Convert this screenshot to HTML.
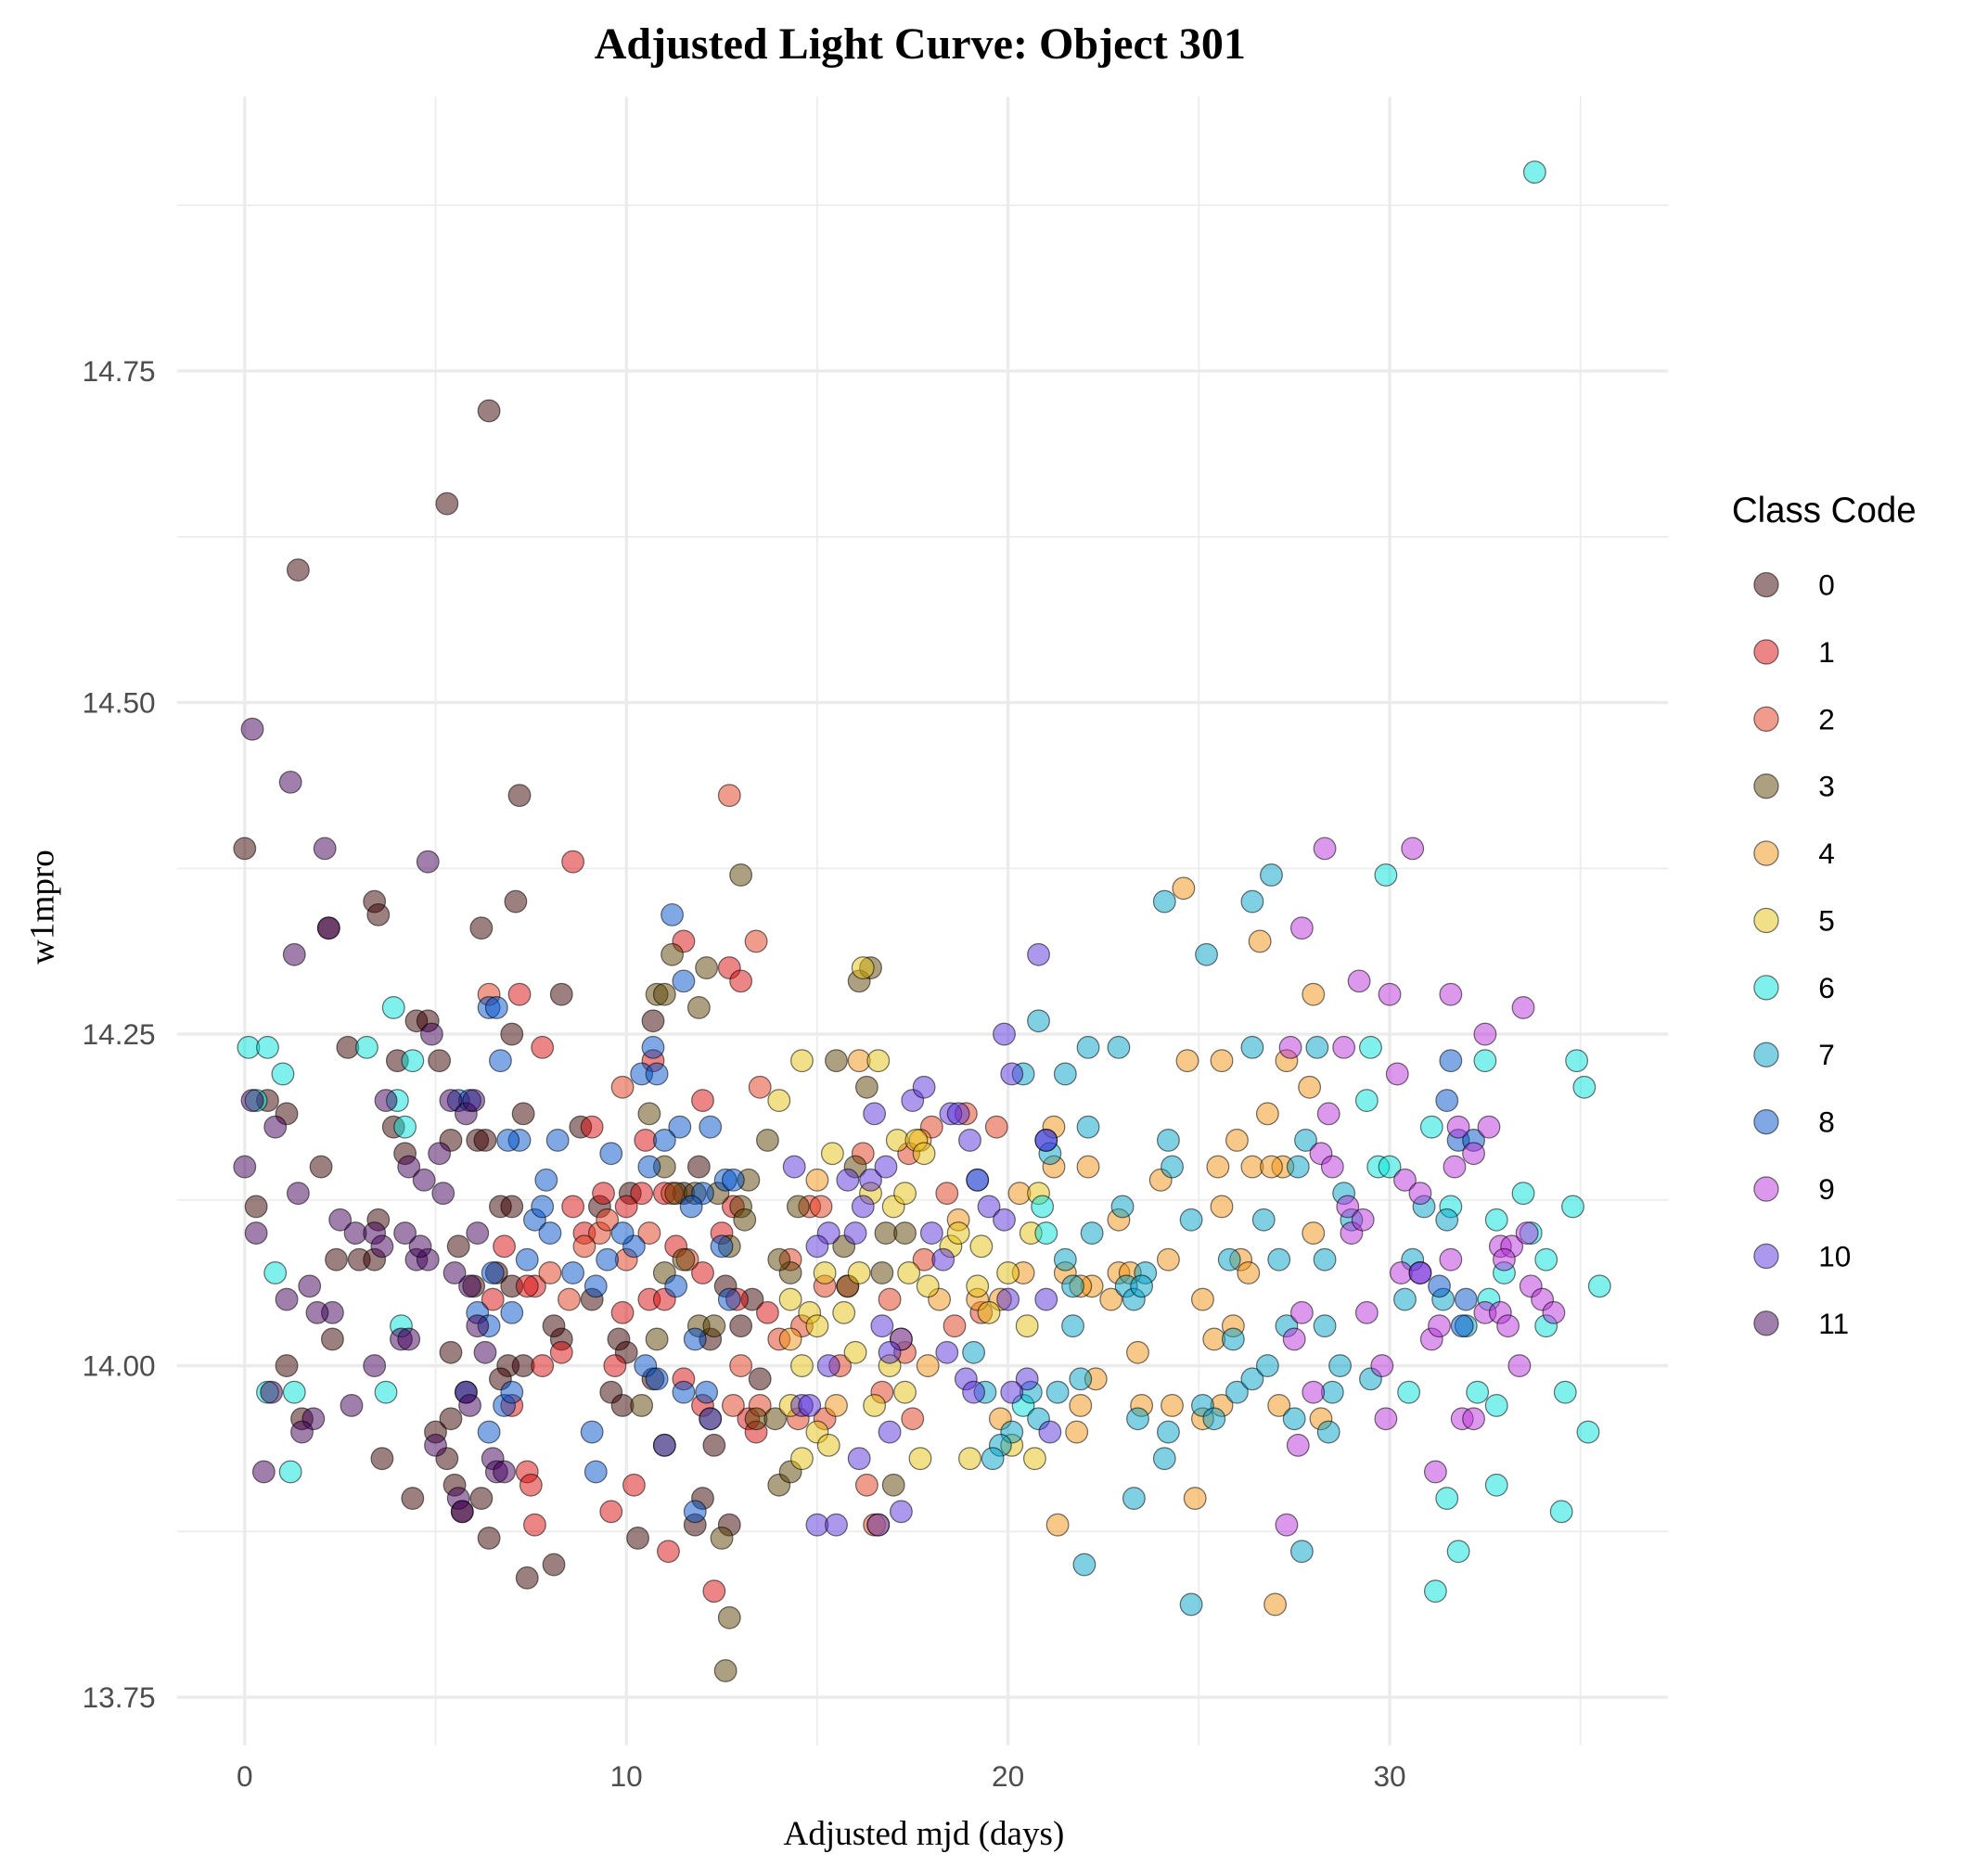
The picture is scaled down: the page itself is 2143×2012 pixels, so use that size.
<!DOCTYPE html>
<html><head><meta charset="utf-8"><style>
html,body{margin:0;padding:0;background:#fff;}
svg{display:block;}
</style></head><body>
<svg id="chart" width="2143" height="2012" viewBox="0 0 1560 1464.7" xmlns="http://www.w3.org/2000/svg">
<rect width="1560" height="1464.7" fill="#fff"/>
<g id="grid"></g>
<g id="points"></g>
<g id="axes"></g>
<text x="722" y="46" text-anchor="middle" font-family="Liberation Serif, serif" font-weight="bold" font-size="35">Adjusted Light Curve: Object 301</text>
<text x="725" y="1448" text-anchor="middle" font-family="Liberation Serif, serif" font-size="27">Adjusted mjd (days)</text>
<text transform="translate(42,712) rotate(-90)" text-anchor="middle" font-family="Liberation Serif, serif" font-size="27">w1mpro</text>
<g id="legend"></g>
</svg>
<script>
const xTicks=[0,10,20,30];
const yTicks=[13.75,14.00,14.25,14.50,14.75];
const yTickLabels=["13.75","14.00","14.25","14.50","14.75"];
const classes=["0","1","2","3","4","5","6","7","8","9","10","11"];
const colors=["#390000","#d90b0b","#e13919","#5b4101","#f19111","#e5c111","#01e1d9","#01a1c9","#0151c9","#b931d9","#5931d9","#410059"];
const c0=[[0,14.39],[1.4,14.60],[5.3,14.65],[6.4,14.72],[7.2,14.43],[7.1,14.35],[3.4,14.35],[3.5,14.34],[2.2,14.33],[6.2,14.33],[2.7,14.24],[7.0,14.25],[8.3,14.28],[4.5,14.26],[4.8,14.26],[5.1,14.23],[3.9,14.18],[6.1,14.17],[6.3,14.17],[7.3,14.19],[8.8,14.18],[0.6,14.20],[1.1,14.19],[2.0,14.15],[4.0,14.23],[0.3,14.12],[2.4,14.08],[3.0,14.08],[3.5,14.11],[5.4,14.17],[6.7,14.12],[7.0,14.12],[5.6,14.09],[6.6,14.07],[1.1,14.00],[2.3,14.02],[5.4,14.01],[6.0,14.06],[7.0,14.06],[6.9,14.00],[7.3,14.00],[6.7,13.99],[3.6,13.93],[4.4,13.90],[5.0,13.95],[5.3,13.93],[5.4,13.96],[5.5,13.91],[5.7,13.89],[6.2,13.90],[6.4,13.87],[7.4,13.84],[8.1,13.85],[8.3,14.02],[8.1,14.03],[9.1,14.05],[9.8,14.02],[9.6,13.98],[9.9,13.97],[10.3,13.87],[10.0,14.01],[10.7,13.99],[10.7,14.26],[11.5,14.13],[11.9,14.15],[12.0,13.90],[11.8,13.88],[12.2,14.02],[12.3,13.94],[12.6,14.06],[12.7,13.88],[13.0,14.03],[13.3,14.05],[13.5,13.99],[9.3,14.12],[10.1,14.13],[1.5,13.96],[4.2,14.16],[3.4,14.08]];
const c1=[[8.6,14.38],[7.2,14.28],[7.8,14.24],[12.7,14.30],[13.0,14.29],[11.5,14.32],[12.0,14.20],[10.7,14.23],[11.0,14.13],[10.4,14.13],[10.5,14.17],[10.0,14.12],[9.1,14.18],[8.9,14.10],[7.6,14.06],[7.4,14.06],[7.0,13.97],[7.4,13.92],[7.6,13.88],[7.5,13.91],[7.8,14.00],[8.3,14.01],[9.6,13.89],[9.7,14.00],[9.9,14.04],[10.2,13.91],[10.6,14.05],[11.0,14.05],[11.3,14.09],[11.1,13.86],[11.0,13.94],[11.5,13.99],[12.0,13.97],[12.3,13.83],[12.2,13.96],[12.0,14.07],[12.5,14.10],[12.8,14.12],[12.9,14.05],[13.2,13.96],[13.4,13.95],[13.7,14.04],[6.5,14.05],[6.8,14.09],[8.6,14.12],[9.4,14.13]];
const c2=[[12.7,14.43],[13.4,14.32],[13.5,14.21],[6.4,14.28],[9.9,14.21],[10.6,14.10],[11.2,14.13],[9.3,14.10],[8.5,14.05],[8.0,14.07],[13.0,14.00],[13.5,13.97],[14.0,14.02],[14.6,14.03],[15.2,13.96],[15.6,14.00],[15.8,14.06],[16.3,13.91],[16.5,13.88],[16.7,13.98],[16.9,14.05],[17.3,14.01],[17.5,13.96],[17.8,14.08],[18.0,14.18],[18.4,14.13],[18.6,14.03],[18.9,14.19],[19.3,14.04],[19.7,14.18],[17.4,14.16],[16.2,14.16],[14.3,14.08],[14.8,14.12],[15.1,14.12],[12.8,13.97],[11.6,14.08],[10.0,14.08],[8.9,14.09],[9.5,14.11],[14.5,13.96],[15.2,14.06]];
const c3=[[13.0,14.37],[11.2,14.31],[12.1,14.30],[11.9,14.27],[10.8,14.28],[11.0,14.28],[16.1,14.29],[16.4,14.30],[15.5,14.23],[16.3,14.21],[13.7,14.17],[10.6,14.19],[11.0,14.15],[11.3,14.13],[11.8,14.13],[12.4,14.13],[13.0,14.12],[13.2,14.14],[14.5,14.12],[14.3,14.07],[14.0,14.08],[13.1,14.11],[12.7,14.09],[11.5,14.08],[11.0,14.07],[10.8,14.02],[11.9,14.03],[12.3,14.03],[12.5,13.87],[12.7,13.81],[12.6,13.77],[13.4,13.96],[13.9,13.96],[14.0,13.91],[14.3,13.92],[15.8,14.06],[16.0,14.15],[16.8,14.10],[17.0,13.91],[16.7,14.07],[17.3,14.10],[15.7,14.09],[10.4,13.97]];
const c4=[[24.6,14.36],[26.6,14.32],[28.0,14.28],[27.9,14.21],[24.7,14.23],[25.6,14.23],[27.3,14.23],[26.8,14.19],[27.2,14.15],[21.2,14.18],[21.2,14.15],[22.1,14.15],[22.9,14.11],[24.0,14.14],[25.5,14.15],[25.6,14.12],[26.0,14.17],[26.4,14.15],[26.9,14.15],[28.0,14.10],[20.3,14.13],[20.4,14.07],[21.5,14.07],[22.2,14.06],[22.9,14.07],[23.2,14.07],[24.2,14.08],[25.1,14.05],[25.4,14.02],[25.9,14.03],[26.1,14.08],[26.3,14.07],[23.4,14.01],[22.7,14.05],[21.9,14.06],[22.3,13.99],[21.9,13.97],[21.8,13.95],[21.3,13.88],[23.5,13.97],[24.3,13.97],[24.9,13.90],[25.1,13.96],[25.6,13.97],[27.1,13.97],[27.0,13.82],[28.2,13.96],[16.1,14.23],[15.0,14.14],[17.7,14.17],[18.2,14.05],[18.7,14.11],[19.8,14.05],[16.6,13.88],[14.3,14.02],[15.5,13.97],[17.2,14.02],[17.9,14.00],[19.2,14.05],[19.8,13.96]];
const c5=[[16.2,14.30],[14.6,14.23],[14.0,14.20],[15.4,14.16],[17.1,14.17],[17.6,14.17],[17.8,14.16],[16.6,14.23],[16.4,14.13],[15.2,14.07],[14.8,14.04],[14.3,14.05],[15.0,14.03],[15.7,14.04],[16.1,14.07],[17.0,14.12],[17.3,14.13],[17.4,14.07],[17.9,14.06],[18.5,14.09],[18.7,14.10],[19.2,14.06],[19.3,14.09],[19.5,14.04],[20.0,14.07],[20.6,14.10],[20.8,14.13],[20.5,14.03],[20.1,13.94],[20.7,13.93],[19.0,13.93],[17.3,13.98],[17.7,13.93],[16.5,13.97],[14.6,13.93],[15.0,13.95],[14.6,14.00],[14.3,13.97],[15.3,13.94],[16.0,14.01],[16.9,14.00]];
const c6=[[33.8,14.90],[0.1,14.24],[0.3,14.20],[0.6,14.24],[1.0,14.22],[3.2,14.24],[3.9,14.27],[4.2,14.18],[4.4,14.23],[4.0,14.20],[0.8,14.07],[0.6,13.98],[1.3,13.98],[1.2,13.92],[3.7,13.98],[4.1,14.03],[29.9,14.37],[29.5,14.24],[29.4,14.20],[29.7,14.15],[30.0,14.15],[32.5,14.23],[33.5,14.13],[34.9,14.23],[35.1,14.21],[31.1,14.18],[31.6,14.12],[32.8,14.11],[34.8,14.12],[35.5,14.06],[34.1,14.08],[33.7,14.10],[32.6,14.05],[33.0,14.07],[34.1,14.03],[32.8,13.97],[32.3,13.98],[31.5,13.90],[31.8,13.86],[31.2,13.83],[32.8,13.91],[34.5,13.89],[34.6,13.98],[35.2,13.95],[30.5,13.98],[20.4,13.97],[20.9,14.12],[21.0,14.10]];
const c7=[[24.1,14.35],[26.9,14.37],[26.4,14.35],[25.2,14.31],[20.8,14.26],[20.4,14.22],[21.5,14.22],[22.1,14.24],[22.9,14.24],[26.4,14.24],[28.1,14.24],[24.2,14.17],[24.3,14.15],[27.8,14.17],[27.6,14.15],[22.1,14.18],[21.1,14.16],[19.2,14.14],[23.0,14.12],[22.2,14.10],[25.8,14.08],[25.9,14.02],[24.8,14.11],[26.7,14.11],[27.1,14.08],[28.3,14.08],[28.8,14.13],[29.0,14.11],[21.5,14.08],[21.7,14.06],[23.1,14.06],[23.6,14.07],[23.3,14.05],[23.5,14.06],[21.7,14.03],[21.9,13.99],[21.3,13.98],[20.6,13.98],[20.1,13.95],[19.8,13.94],[19.1,14.01],[19.4,13.98],[22.0,13.85],[23.3,13.90],[24.1,13.93],[24.2,13.95],[23.4,13.96],[25.1,13.97],[25.4,13.96],[24.8,13.82],[26.0,13.98],[26.4,13.99],[26.8,14.00],[27.5,13.96],[27.7,13.86],[28.4,13.95],[28.5,13.98],[28.7,14.00],[29.5,13.99],[30.4,14.05],[30.6,14.08],[31.4,14.05],[32.0,14.03],[30.9,14.12],[31.5,14.11],[28.3,14.03],[27.3,14.03],[20.8,13.96],[19.6,13.93]];
const c8=[[11.2,14.34],[11.5,14.29],[6.4,14.27],[6.6,14.27],[6.7,14.23],[10.4,14.22],[10.7,14.24],[10.8,14.22],[5.6,14.20],[5.9,14.20],[11.4,14.18],[12.2,14.18],[10.6,14.15],[11.0,14.17],[9.6,14.16],[8.2,14.17],[7.9,14.14],[7.2,14.17],[6.9,14.17],[12.6,14.14],[12.8,14.14],[12.0,14.13],[11.7,14.12],[10.2,14.09],[9.9,14.10],[7.6,14.11],[7.8,14.12],[8.0,14.10],[7.4,14.08],[6.1,14.04],[6.4,14.03],[6.5,14.07],[7.0,14.04],[8.6,14.07],[9.5,14.08],[9.2,14.06],[12.5,14.09],[12.7,14.05],[11.3,14.06],[11.8,14.02],[10.5,14.00],[10.8,13.99],[11.5,13.98],[12.2,13.96],[12.1,13.98],[11.0,13.94],[9.1,13.95],[9.2,13.92],[5.8,13.98],[6.8,13.97],[7.0,13.98],[6.4,13.95],[11.8,13.89],[31.6,14.23],[31.5,14.20],[31.8,14.17],[32.2,14.17],[31.3,14.06],[31.9,14.03],[32.0,14.05],[21.0,14.17]];
const c9=[[28.3,14.39],[30.6,14.39],[27.7,14.33],[29.2,14.29],[30.0,14.28],[31.6,14.28],[33.5,14.27],[32.5,14.25],[27.4,14.24],[28.8,14.24],[30.2,14.22],[28.4,14.19],[31.8,14.18],[32.6,14.18],[31.7,14.15],[32.2,14.16],[28.2,14.16],[28.5,14.15],[30.4,14.14],[30.8,14.13],[28.9,14.12],[29.0,14.10],[29.3,14.11],[31.6,14.08],[32.9,14.09],[33.2,14.09],[33.6,14.10],[33.0,14.08],[33.7,14.06],[34.0,14.05],[34.3,14.04],[32.5,14.04],[32.9,14.04],[33.1,14.03],[30.3,14.07],[30.8,14.07],[29.4,14.04],[27.7,14.04],[27.5,14.02],[31.1,14.02],[31.3,14.03],[29.8,14.00],[33.4,14.00],[28.0,13.98],[27.6,13.94],[29.9,13.96],[31.9,13.96],[32.2,13.96],[31.2,13.92],[27.3,13.88]];
const c10=[[20.8,14.31],[19.9,14.25],[20.1,14.22],[17.5,14.20],[17.8,14.21],[18.5,14.19],[18.7,14.19],[19.0,14.17],[19.2,14.14],[16.5,14.19],[14.4,14.15],[15.8,14.14],[16.4,14.14],[16.8,14.15],[16.2,14.12],[15.3,14.10],[16.0,14.10],[15.0,14.09],[19.5,14.12],[19.9,14.11],[21.0,14.05],[18.0,14.10],[18.3,14.08],[16.7,14.03],[17.2,14.02],[16.9,14.01],[18.4,14.01],[20.0,14.05],[18.9,13.99],[19.1,13.98],[20.5,13.99],[20.1,13.98],[21.1,13.95],[15.3,14.00],[14.6,13.97],[14.8,13.97],[16.1,13.93],[16.9,13.95],[17.2,13.89],[16.6,13.88],[15.0,13.88],[15.5,13.88],[30.8,14.07],[21.0,14.17]];
const c11=[[0.2,14.48],[1.2,14.44],[2.1,14.39],[4.8,14.38],[2.2,14.33],[1.3,14.31],[4.9,14.25],[0.0,14.15],[0.2,14.20],[1.4,14.13],[2.5,14.11],[2.9,14.10],[3.4,14.10],[3.7,14.20],[4.3,14.15],[4.5,14.08],[4.8,14.08],[5.1,14.16],[5.2,14.13],[5.4,14.20],[5.8,14.19],[6.0,14.20],[6.1,14.10],[3.6,14.09],[4.7,14.14],[5.5,14.07],[5.9,14.06],[0.3,14.10],[0.8,14.18],[1.1,14.05],[1.7,14.06],[2.3,14.04],[1.9,14.04],[0.7,13.98],[3.4,14.00],[4.1,14.02],[4.3,14.02],[2.8,13.97],[1.8,13.96],[1.5,13.95],[0.5,13.92],[5.0,13.94],[5.8,13.98],[5.9,13.97],[6.5,13.93],[6.6,13.92],[5.6,13.90],[5.7,13.89],[6.8,13.92],[6.3,14.01],[6.1,14.03],[4.6,14.09],[4.2,14.10]];
const series=[c0,c1,c2,c3,c4,c5,c6,c7,c8,c9,c10,c11];

const NS="http://www.w3.org/2000/svg";
const px0=192, pxPer=29.95, py0=1072, pyPer=1041;
function sx(v){return px0+v*pxPer;}
function sy(v){return py0-(v-14)*pyPer;}
function mk(tag,attrs,parent){const e=document.createElementNS(NS,tag);for(const k in attrs)e.setAttribute(k,attrs[k]);parent.appendChild(e);return e;}
const grid=document.getElementById('grid'),pts=document.getElementById('points'),axes=document.getElementById('axes'),leg=document.getElementById('legend');
const L=139,R=1309,T=76,B=1370;
for(let v=13.875;v<14.95;v+=0.25){const l=mk('line',{x1:L,x2:R,y1:sy(v),y2:sy(v),stroke:'#ebebeb','stroke-width':1.2},grid);

}
for(let v=5;v<37;v+=10){const l=mk('line',{x1:sx(v),x2:sx(v),y1:T,y2:B,stroke:'#ebebeb','stroke-width':1.2},grid);

}
yTicks.forEach((v,i)=>{const l=mk('line',{x1:L,x2:R,y1:sy(v),y2:sy(v),stroke:'#ebebeb','stroke-width':2.4},grid);


const t=mk('text',{x:122,y:sy(v)+8,'text-anchor':'end','font-family':'Liberation Sans, sans-serif','font-size':23,fill:'#4d4d4d'},axes);t.textContent=yTickLabels[i];

});
xTicks.forEach(v=>{const l=mk('line',{x1:sx(v),x2:sx(v),y1:T,y2:B,stroke:'#ebebeb','stroke-width':2.4},grid);


const t=mk('text',{x:sx(v),y:1402,'text-anchor':'middle','font-family':'Liberation Sans, sans-serif','font-size':23,fill:'#4d4d4d'},axes);t.textContent=String(v);

});
series.forEach((s,ci)=>{s.forEach(p=>{const c=mk('circle',{cx:sx(p[0]),cy:sy(p[1]),r:8.6,fill:colors[ci],'fill-opacity':0.5,stroke:'#000','stroke-opacity':0.55,'stroke-width':0.9},pts);

});});
const lt=mk('text',{x:1359,y:410,'font-family':'Liberation Sans, sans-serif','font-size':28,fill:'#000'},leg);lt.textContent='Class Code';


classes.forEach((c,i)=>{const y=459+i*52.7;
const g=mk('g',{},leg);


mk('circle',{cx:1386,cy:y,r:9.5,fill:colors[i],'fill-opacity':0.5,stroke:'#000','stroke-opacity':0.55,'stroke-width':0.9},g);
const t=mk('text',{x:1427,y:y+8,'font-family':'Liberation Sans, sans-serif','font-size':23,fill:'#000'},g);t.textContent=c;});
</script>
</body></html>
